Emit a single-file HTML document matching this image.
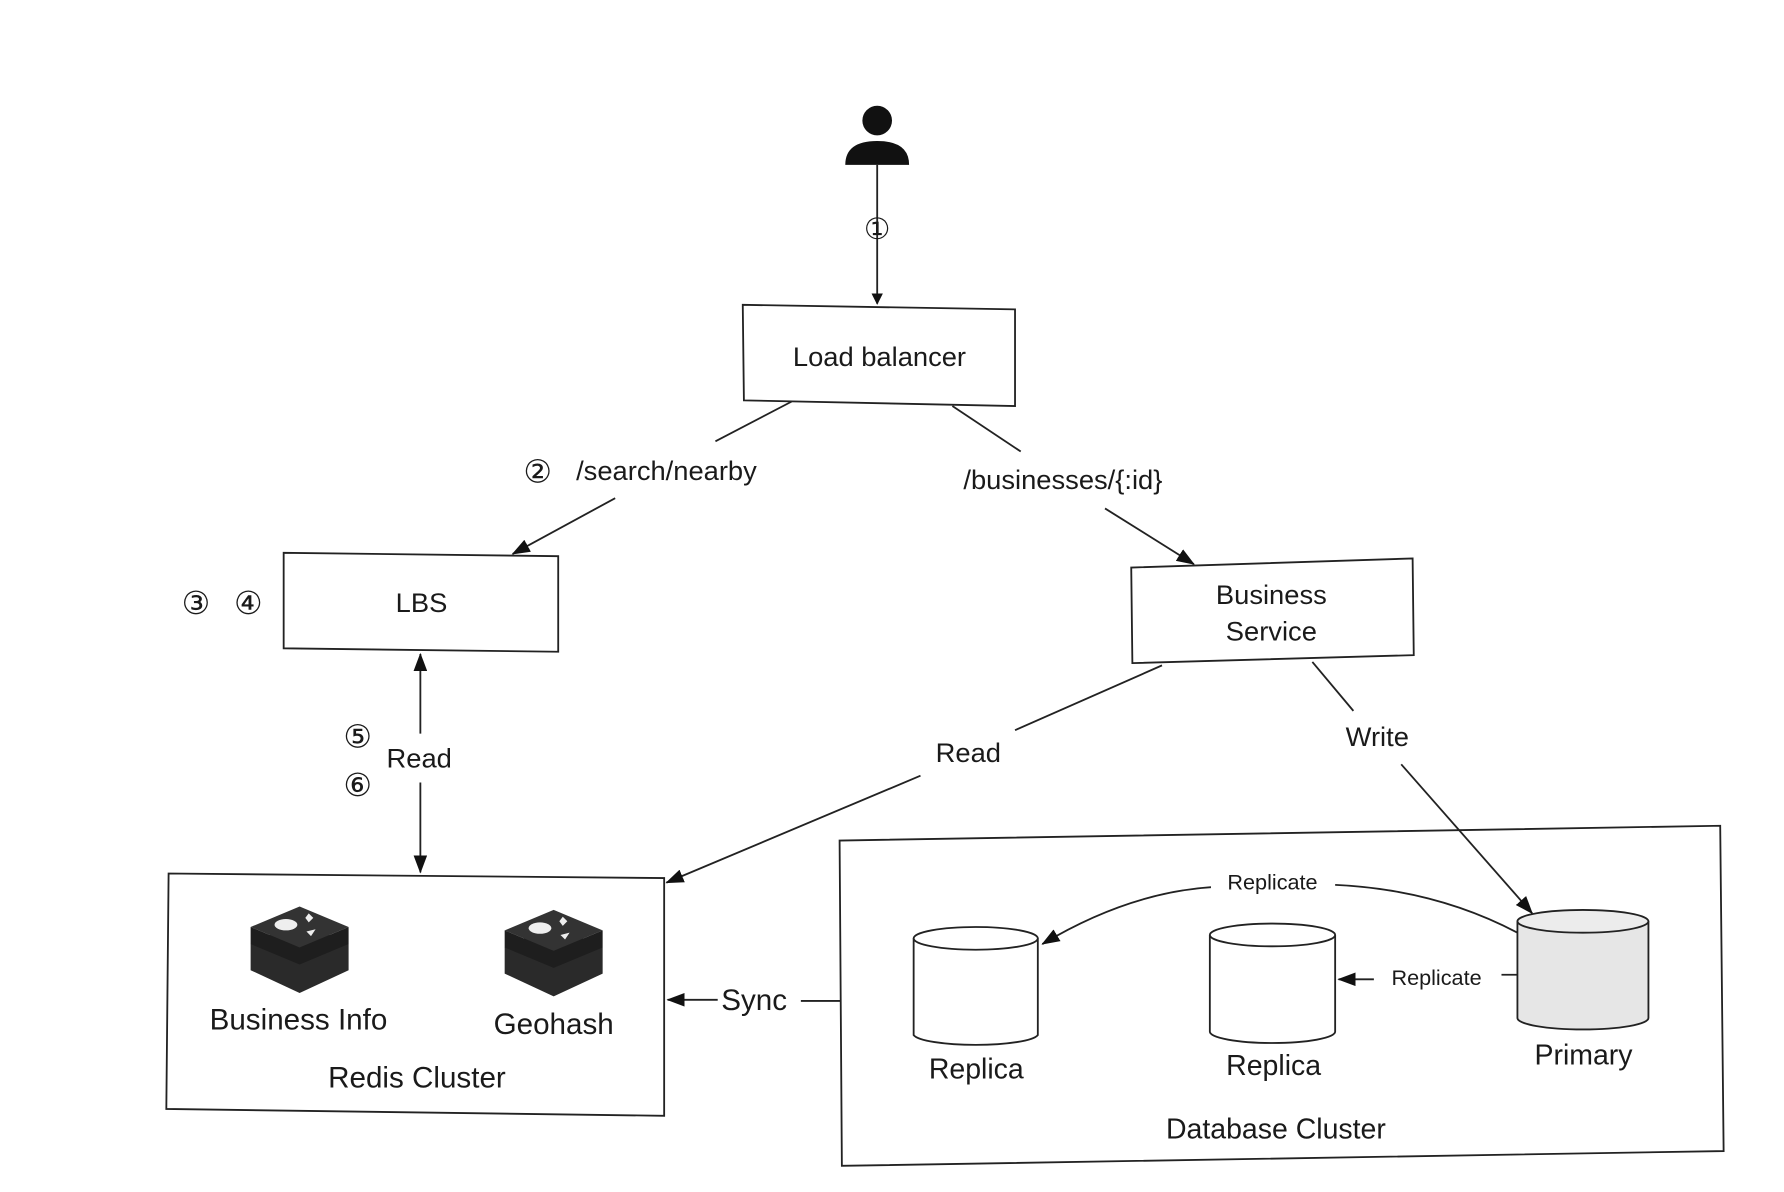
<!DOCTYPE html>
<html><head><meta charset="utf-8"><style>
html,body{margin:0;padding:0;background:#fff;}
svg{display:block;}
text{font-family:"Liberation Sans",sans-serif;fill:#1a1a1a;text-anchor:middle;}
.c{font-family:"DejaVu Sans",sans-serif;}
</style></head><body>
<svg width="1784" height="1192" viewBox="0 0 1566 1048" preserveAspectRatio="none" xmlns="http://www.w3.org/2000/svg">
<defs>
<marker id="a" markerWidth="10" markerHeight="10" refX="9" refY="5" orient="auto" markerUnits="userSpaceOnUse">
<path d="M0,0 L10,5 L0,10 z" fill="#111"/></marker>
<marker id="as" markerWidth="16" markerHeight="12" refX="15" refY="6" orient="auto" markerUnits="userSpaceOnUse">
<path d="M0,0 L16,6 L0,12 z" fill="#111"/></marker>
</defs>
<rect width="1566" height="1048" fill="#fff"/>
<g stroke="#222" stroke-width="1.6" fill="none">
<circle cx="770" cy="106" r="13" fill="#111" stroke="none"/>
<path d="M742,145 Q742,124 770,124 Q798,124 798,145 z" fill="#111" stroke="none"/>
<line x1="770" y1="145" x2="770" y2="267" marker-end="url(#a)"/>
<polygon points="652,268 891,272 891,357 653,352" fill="#fff"/>
<polygon points="249,486 490,489 490,573 249,570" fill="#fff"/>
<polygon points="993,499 1240,491 1241,576 994,583" fill="#fff"/>
<polygon points="148,768 583,772 583,981 146,975" fill="#fff"/>
<polygon points="737,739 1510,726 1513,1012 739,1025" fill="#fff"/>
<line x1="695" y1="353" x2="628" y2="388"/>
<line x1="540" y1="438" x2="450" y2="487" marker-end="url(#as)"/>
<line x1="836" y1="357" x2="896" y2="397"/>
<line x1="970" y1="447" x2="1048" y2="496" marker-end="url(#as)"/>
<line x1="369" y1="645" x2="369" y2="575" marker-end="url(#as)"/>
<line x1="369" y1="688" x2="369" y2="767" marker-end="url(#as)"/>
<line x1="1020" y1="585" x2="891" y2="642"/>
<line x1="808" y1="682" x2="585" y2="776" marker-end="url(#as)"/>
<line x1="1152" y1="582" x2="1188" y2="625"/>
<line x1="1230" y1="672" x2="1345" y2="803" marker-end="url(#as)"/>
<line x1="630" y1="879" x2="586" y2="879" marker-end="url(#as)"/>
<line x1="703" y1="880" x2="738" y2="880"/>
<path d="M1332,820 Q1260,782 1172,778"/>
<path d="M1063,780 Q990,785 915,830" marker-end="url(#as)"/>
<line x1="1318" y1="857" x2="1332" y2="857"/>
<line x1="1206" y1="861" x2="1175" y2="861" marker-end="url(#as)"/>
<path d="M802,825 L802,910 A55,10 0 0 0 911,910 L911,825" fill="#fff"/>
<ellipse cx="856.5" cy="825" rx="54.5" ry="10" fill="#fff"/>
<path d="M1062,822 L1062,907 A55,10 0 0 0 1172,907 L1172,822" fill="#fff"/>
<ellipse cx="1117" cy="822" rx="55" ry="10" fill="#fff"/>
<path d="M1332,810 L1332,895 A57,10 0 0 0 1447,895 L1447,810" fill="#e6e6e6"/>
<ellipse cx="1389.5" cy="810" rx="57.5" ry="10" fill="#ececec"/>
</g>
<g transform="translate(263,835)">
<path d="M-43,-5 L0,-25 L43,-5 L43,18 L0,38 L-43,18 z" fill="#2a2a2a"/>
<path d="M-43,-20 L0,-38 L43,-20 L0,-2 z" fill="#333"/>
<path d="M-43,-20 L0,-2 L43,-20 L43,-5 L0,13 L-43,-5 z" fill="#1e1e1e"/>
<ellipse cx="-12" cy="-22" rx="10" ry="5" fill="#eee"/>
<path d="M8,-32 l4,4 l-4,4 l-3,-4z M6,-16 l8,-2 l-4,6z" fill="#eee"/>
</g>
<g transform="translate(486,838)">
<path d="M-43,-5 L0,-25 L43,-5 L43,18 L0,38 L-43,18 z" fill="#2a2a2a"/>
<path d="M-43,-20 L0,-38 L43,-20 L0,-2 z" fill="#333"/>
<path d="M-43,-20 L0,-2 L43,-20 L43,-5 L0,13 L-43,-5 z" fill="#1e1e1e"/>
<ellipse cx="-12" cy="-22" rx="10" ry="5" fill="#eee"/>
<path d="M8,-32 l4,4 l-4,4 l-3,-4z M6,-16 l8,-2 l-4,6z" fill="#eee"/>
</g>
<text class="c" x="770" y="210" font-size="26">①</text>
<text x="772" y="322" font-size="24">Load balancer</text>
<text class="c" x="472" y="424" font-size="28">②</text>
<text x="585" y="422" font-size="24">/search/nearby</text>
<text x="933" y="430" font-size="24">/businesses/{:id}</text>
<text x="370" y="538" font-size="24">LBS</text>
<text class="c" x="172" y="540" font-size="28">③</text>
<text class="c" x="218" y="540" font-size="28">④</text>
<text x="1116" y="531" font-size="24">Business</text>
<text x="1116" y="563" font-size="24">Service</text>
<text class="c" x="314" y="657" font-size="28">⑤</text>
<text class="c" x="314" y="700" font-size="28">⑥</text>
<text x="368" y="675" font-size="24">Read</text>
<text x="850" y="670" font-size="24">Read</text>
<text x="1209" y="656" font-size="24">Write</text>
<text x="262" y="905" font-size="26">Business Info</text>
<text x="486" y="909" font-size="26">Geohash</text>
<text x="366" y="956" font-size="26">Redis Cluster</text>
<text x="662" y="888" font-size="26">Sync</text>
<text x="1117" y="782" font-size="19">Replicate</text>
<text x="1261" y="866" font-size="19">Replicate</text>
<text x="857" y="948" font-size="25">Replica</text>
<text x="1118" y="945" font-size="25">Replica</text>
<text x="1390" y="936" font-size="25">Primary</text>
<text x="1120" y="1001" font-size="25">Database Cluster</text>
</svg>
</body></html>
